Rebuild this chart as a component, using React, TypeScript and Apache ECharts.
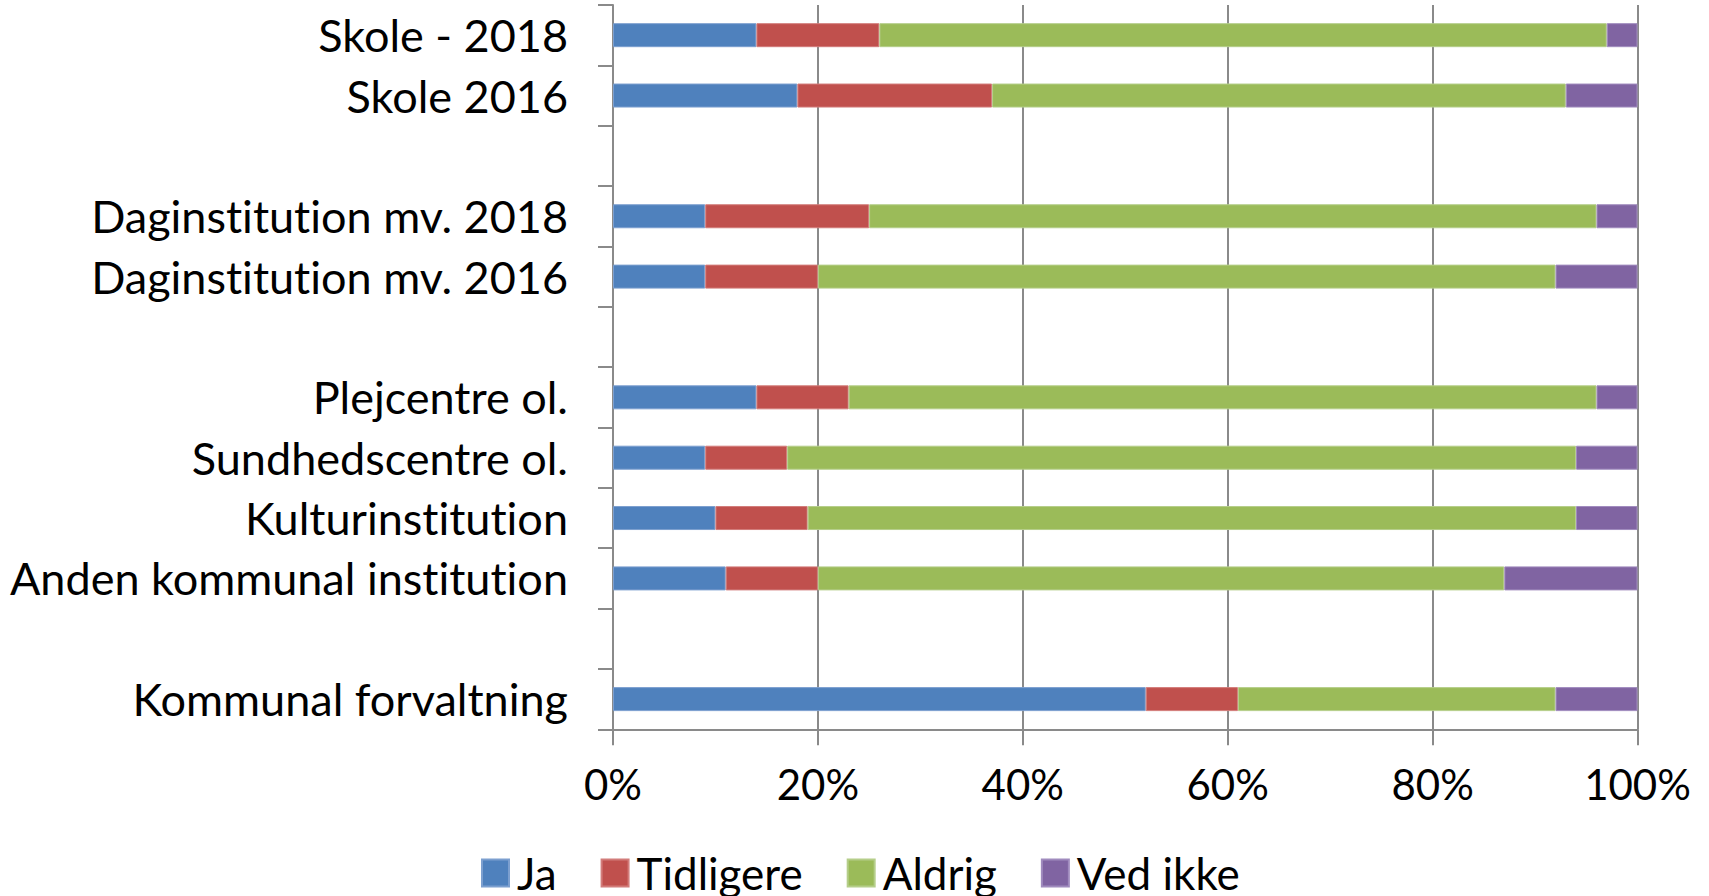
import React, { useEffect, useRef } from "react";
import * as echarts from "echarts";

const categories = [
  "Skole - 2018",
  "Skole 2016",
  " ",
  "Daginstitution mv. 2018",
  "Daginstitution mv. 2016",
  "  ",
  "Plejcentre ol.",
  "Sundhedscentre ol.",
  "Kulturinstitution",
  "Anden kommunal institution",
  "   ",
  "Kommunal forvaltning",
];

const ja = [14, 18, null, 9, 9, null, 14, 9, 10, 11, null, 52];
const tidligere = [12, 19, null, 16, 11, null, 9, 8, 9, 9, null, 9];
const aldrig = [71, 56, null, 71, 72, null, 73, 77, 75, 67, null, 31];
const vedIkke = [3, 7, null, 4, 8, null, 4, 6, 6, 13, null, 8];

const seriesNames = ["Ja", "Tidligere", "Aldrig", "Ved ikke"];
const seriesColors = ["#4F81BD", "#C0504D", "#9BBB59", "#8064A2"];
const seriesBorders = ["#7C9FCF", "#D27C7A", "#B5CE8A", "#A08BBE"];
const xTicks = [0, 20, 40, 60, 80, 100];

export default function App() {
  const ref = useRef<HTMLDivElement>(null);

  useEffect(() => {
    if (!ref.current) return;
    const chart = echarts.init(ref.current, undefined, { renderer: "svg" });
    const values = [ja, tidligere, aldrig, vedIkke];
    const gray = "#8a8a8a";
    chart.setOption({
      animation: false,
      backgroundColor: "#ffffff",
      grid: { left: 613, right: 71.5, top: 5, bottom: 166.7, containLabel: false },
      legend: {
        data: seriesNames,
        left: 481,
        top: 851,
        padding: 0,
        icon: "rect",
        itemWidth: 27,
        itemHeight: 27,
        itemGap: 44,
        textStyle: {
          fontFamily: "Lato",
          fontSize: 44,
          lineHeight: 38,
          color: "#000",
          padding: [0, 0, 0, 3],
        },
      },
      xAxis: {
        type: "value",
        min: 0,
        max: 100,
        interval: 20,
        axisLine: { show: true, lineStyle: { color: gray, width: 2 } },
        axisTick: { show: true, length: 16, lineStyle: { color: gray, width: 2 } },
        splitLine: { show: true, lineStyle: { color: gray, width: 2 } },
        axisLabel: {
          margin: 34,
          fontFamily: "Lato",
          fontSize: 42,
          color: "#000",
          formatter: (v: number) => (xTicks.includes(v) ? v + "%" : ""),
        },
      },
      yAxis: {
        type: "category",
        inverse: true,
        data: categories,
        axisLine: { show: true, lineStyle: { color: gray, width: 2 } },
        axisTick: { show: true, length: 15, lineStyle: { color: gray, width: 2 } },
        splitLine: { show: false },
        axisLabel: {
          margin: 45,
          fontFamily: "Lato",
          fontSize: 45,
          color: "#000",
        },
      },
      series: seriesNames.map((name, i) => ({
        name,
        type: "bar",
        stack: "total",
        barWidth: 24,
        data: values[i],
        itemStyle: {
          color: seriesColors[i],
          borderColor: seriesBorders[i],
          borderWidth: 1,
        },
      })),
    });
    return () => chart.dispose();
  }, []);

  return (
    <>
      <style>{`#chart text { font-variant-ligatures: none; font-feature-settings: "liga" 0, "clig" 0; }`}</style>
      <div
        id="chart"
        ref={ref}
        style={{ position: "fixed", left: 0, top: 0, width: 1709, height: 896 }}
      />
    </>
  );
}
